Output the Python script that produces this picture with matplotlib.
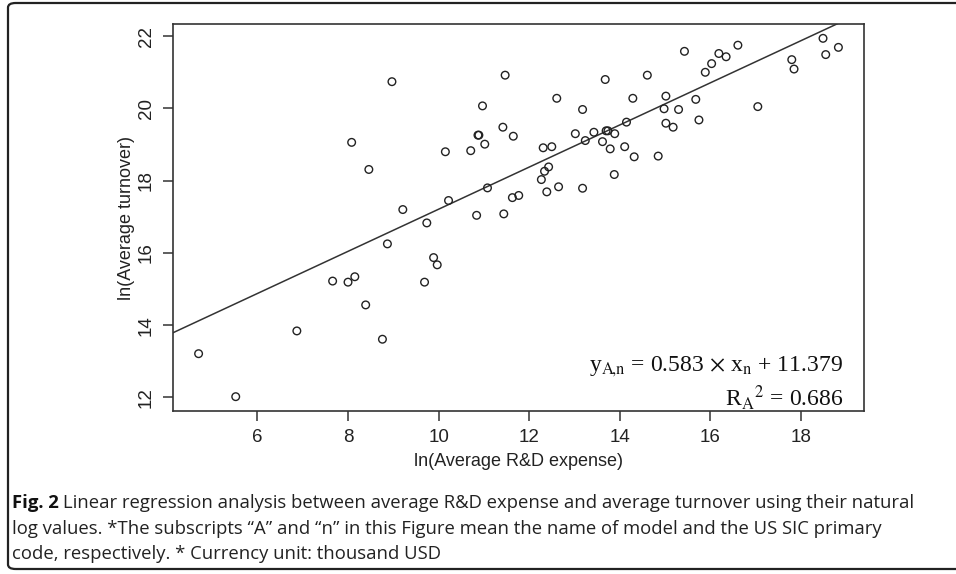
#!/usr/bin/env python3
"""
Regressao linear: ln(R&D medio) vs ln(faturamento medio)
"""
import matplotlib
matplotlib.use('Agg')
import matplotlib.pyplot as plt
from matplotlib.patches import FancyBboxPatch
import numpy as np

# ln(Average R&D expense)
x_rd = [4.70, 5.52, 6.87, 7.66, 8.00, 8.15, 8.39, 8.76, 8.87, 8.08, 8.46, 8.97,
        9.21, 9.74, 9.69, 9.89, 9.97, 10.15, 10.22, 10.71, 10.84, 10.87, 10.89,
        10.97, 11.02, 11.08, 11.47, 11.42, 11.65, 11.44, 11.63, 11.77, 12.27,
        12.34, 12.43, 12.31, 12.50, 12.39, 12.65, 12.61, 13.18, 13.18, 13.02,
        13.24, 13.43, 13.68, 13.62, 13.70, 13.74, 13.89, 13.79, 13.88, 14.11,
        14.15, 14.29, 14.32, 14.61, 14.85, 15.02, 14.98, 15.02, 15.18, 15.30,
        15.43, 15.68, 15.75, 15.89, 16.03, 16.19, 16.35, 16.61, 17.05, 17.80,
        17.85, 18.49, 18.55, 18.83]
# ln(Average turnover)
y_turn = [13.21, 12.02, 13.84, 15.22, 15.19, 15.34, 14.56, 13.61, 16.25, 19.06, 18.31, 20.74,
          17.20, 16.83, 15.19, 15.87, 15.67, 18.80, 17.45, 18.83, 17.04, 19.26, 19.26,
          20.07, 19.01, 17.80, 20.92, 19.48, 19.23, 17.08, 17.53, 17.59, 18.03,
          18.26, 18.38, 18.91, 18.94, 17.69, 17.83, 20.28, 17.79, 19.97, 19.30,
          19.11, 19.34, 20.80, 19.08, 19.38, 19.38, 19.30, 18.88, 18.17, 18.94,
          19.62, 20.28, 18.66, 20.92, 18.68, 20.34, 19.99, 19.59, 19.48, 19.97,
          21.58, 20.25, 19.68, 21.00, 21.24, 21.52, 21.43, 21.75, 20.05, 21.35,
          21.09, 21.94, 21.49, 21.69]

slope, intercept = 0.583, 11.379
x_ticks = [6, 8, 10, 12, 14, 16, 18]
y_ticks = [12, 14, 16, 18, 20, 22]

caption = [
    "Linear regression analysis between average R&D expense and average turnover using their natural",
    "log values. *The subscripts \u201cA\u201d and \u201cn\u201d in this Figure mean the name of model and the US SIC primary",
    "code, respectively. * Currency unit: thousand USD",
]

W, H = 956, 574
plt.rcParams['mathtext.fontset'] = 'stix'
fig = plt.figure(figsize=(W / 100, H / 100), dpi=100)

# moldura arredondada
frame = FancyBboxPatch((8 / W, 5 / H), 1.2, 566 / H, boxstyle="round,pad=0,rounding_size=0.008",
                       transform=fig.transFigure, fill=False, edgecolor='#222222', linewidth=1.6)
fig.patches.append(frame)

ax = fig.add_axes([173 / W, (H - 411) / H, (864 - 173) / W, (411 - 24) / H])
ax.scatter(x_rd, y_turn, s=30, facecolors='none', edgecolors='#222222', linewidths=1.0, zorder=3)

# limites no estilo do R (4% de margem)
xr = max(x_rd) - min(x_rd)
yr = max(y_turn) - min(y_turn)
xlim = (min(x_rd) - 0.04 * xr, max(x_rd) + 0.04 * xr)
ylim = (min(y_turn) - 0.04 * yr, max(y_turn) + 0.04 * yr)
xx = np.array(xlim)
ax.plot(xx, slope * xx + intercept, color='#333333', linewidth=1.1)
ax.set_xlim(xlim)
ax.set_ylim(ylim)

ax.set_xticks(x_ticks)
ax.set_yticks(y_ticks)
ax.tick_params(direction='out', length=7, width=1.1, colors='#333333', labelsize=13.5,
               labelcolor='#222222', pad=6)
for lbl in ax.get_yticklabels():
    lbl.set_rotation(90)
    lbl.set_va('center')
for lbl in ax.get_xticklabels() + ax.get_yticklabels():
    lbl.set_family('Liberation Sans')
for s in ax.spines.values():
    s.set_linewidth(1.2)
    s.set_color('#333333')
ax.set_xlabel('ln(Average R&D expense)', fontsize=13, family='Liberation Sans', color='#222222', labelpad=5)
ax.set_ylabel('ln(Average turnover)', fontsize=13, family='Liberation Sans', color='#222222', labelpad=2)

# equacao da regressao
eq_kw = dict(transform=ax.transAxes, ha='right', va='center', fontsize=17,
             family='Liberation Serif', color='#111111')
ax.text(0.97, 0.115, r'y$_{\mathrm{A}\!,\!\mathrm{n}}$ = 0.583 $\times$ x$_{\mathrm{n}}$ + 11.379', **eq_kw)
ax.text(0.97, 0.035, r'R$_{\mathrm{A}}$$^{\mathrm{2}}$ = 0.686', **eq_kw)

# legenda da figura
cap_y = [503, 529, 554]
cap_fs = 13.3
fig.text(12 / W, 1 - cap_y[0] / H, 'Fig. 2', fontsize=cap_fs, fontweight='bold', family='Open Sans',
         va='center', ha='left', color='#111111')
fig.text(63 / W, 1 - cap_y[0] / H, caption[0], fontsize=cap_fs, family='Open Sans',
         va='center', ha='left', color='#222222')
fig.text(12 / W, 1 - cap_y[1] / H, caption[1], fontsize=cap_fs, family='Open Sans',
         va='center', ha='left', color='#222222')
fig.text(12 / W, 1 - cap_y[2] / H, caption[2], fontsize=cap_fs, family='Open Sans',
         va='center', ha='left', color='#222222')

fig.savefig('out.png', dpi=100)
plt.close(fig)
